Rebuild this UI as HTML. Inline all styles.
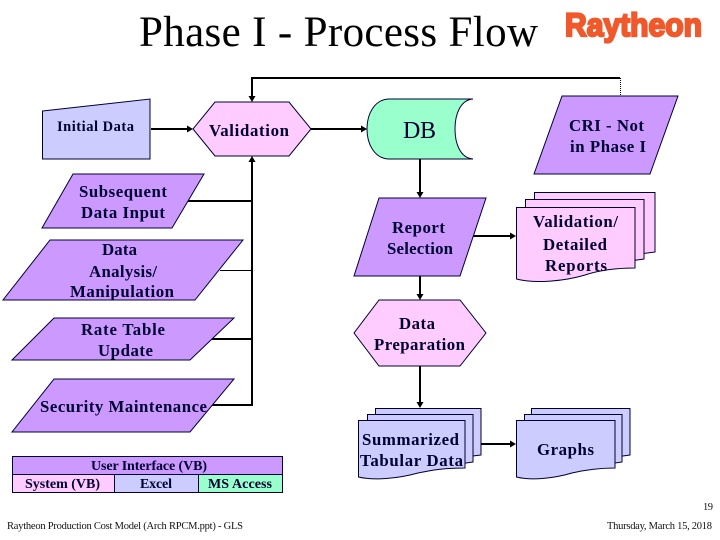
<!DOCTYPE html>
<html>
<head>
<meta charset="utf-8">
<style>
html,body{margin:0;padding:0;background:#fff;width:720px;height:540px;overflow:hidden}
svg{display:block}
text{font-family:"Liberation Serif",serif;fill:#000033}
.b{font-weight:bold;font-size:16.8px}
.s{font-weight:bold;font-size:14px}
.f{font-size:10.5px;fill:#111}
.sh{stroke:#000033;stroke-width:1}
.l{stroke:#000;stroke-width:2;fill:none}
.a{fill:#000;stroke:none}
</style>
</head>
<body>
<svg width="720" height="540" viewBox="0 0 720 540" xmlns="http://www.w3.org/2000/svg">
<!-- title and logo -->
<text x="139" y="46" font-size="43" textLength="399" lengthAdjust="spacing" style="fill:#000">Phase I - Process Flow</text>
<text x="565" y="36" font-size="32" textLength="137" lengthAdjust="spacingAndGlyphs" style="font-family:'Liberation Sans',sans-serif;font-weight:bold;fill:#F0592B;stroke:#F0592B;stroke-width:2.2">Raytheon</text>

<!-- connectors -->
<path class="l" d="M252 78H620"/>
<path d="M620.5 78V96" stroke="#000" stroke-width="1" stroke-dasharray="1 1" fill="none"/>
<path class="l" d="M252 77V97"/>
<path class="a" d="M248.500 96H255.500L252 102Z"/>
<path class="l" d="M151 129H188"/>
<path class="a" d="M187 125.500L193 129L187 132.500Z"/>
<path class="l" d="M311 129H362"/>
<path class="a" d="M361 125.500L367 129L361 132.500Z"/>
<path class="l" d="M252 161V405H212"/>
<path class="a" d="M248.500 162L252 156L255.500 162Z"/>
<path class="l" d="M187 201H252"/>
<path d="M220 270.500H252" stroke="#000" stroke-width="1" fill="none"/>
<path class="l" d="M212 339H252"/>
<path class="l" d="M420 159V193"/>
<path class="a" d="M416.500 192H423.500L420 198Z"/>
<path class="l" d="M420 276V295"/>
<path class="a" d="M416.500 294H423.500L420 300Z"/>
<path class="l" d="M420 366V403"/>
<path class="a" d="M416.500 402H423.500L420 408Z"/>
<path class="l" d="M473 236H511"/>
<path class="a" d="M510 232.500L516 236L510 239.500Z"/>
<path class="l" d="M481 444H511"/>
<path class="a" d="M510 440.500L516 444L510 447.500Z"/>

<!-- left column -->
<path class="sh" fill="#CCCCFF" d="M42.500 111L150 99V159H42.500Z"/>
<path class="sh" fill="#FFCCFF" d="M193 129L215 102H289L311 129L289 156H215Z"/>
<path class="sh" fill="#CC99FF" d="M73 174H204L172 228H42Z"/>
<path class="sh" fill="#CC99FF" d="M50 240H243L195 300H3Z"/>
<path class="sh" fill="#CC99FF" d="M54 318H234L190 360H12Z"/>
<path class="sh" fill="#CC99FF" d="M54 379H234L190 432H12Z"/>

<!-- table -->
<rect class="sh" fill="#CC99FF" x="12.500" y="456.500" width="270" height="18"/>
<rect class="sh" fill="#FFCCFF" x="12.500" y="474.500" width="102" height="18"/>
<rect class="sh" fill="#CCCCFF" x="114.500" y="474.500" width="84" height="18"/>
<rect class="sh" fill="#99FFCC" x="198.500" y="474.500" width="84" height="18"/>

<!-- DB -->
<path class="sh" fill="#99FFCC" d="M473 99H388C375 100 367 113 367 129C367 145 375 158 388 159H473C460 158 455 143 455 129C455 115 460 100 473 99Z"/>

<!-- middle and right shapes -->
<path class="sh" fill="#CC99FF" d="M379 198H486L460 276H354Z"/>
<path class="sh" fill="#FFCCFF" d="M379 300H460L486 333L460 366H379L354 333Z"/>
<path class="sh" fill="#CC99FF" d="M562 96H678L650 174H534Z"/>

<!-- pink documents -->
<path class="sh" fill="#FFCCFF" d="M534.500 192.500H655V252C640 254 625 256 600 262H534.500Z"/>
<path class="sh" fill="#FFCCFF" d="M525.500 199.500H644V259C630 261 615 263 590 270H525.500Z"/>
<path class="sh" fill="#FFCCFF" d="M516.500 207.500H635V268C615 268 600 270 585 275C565 281 535 284 516.500 279Z"/>

<!-- blue documents -->
<path class="sh" fill="#CCCCFF" d="M375.500 408.500H481V455C465 457 450 459 430 465H375.500Z"/>
<path class="sh" fill="#CCCCFF" d="M367.500 414.500H473V462C458 464 443 466 423 472H367.500Z"/>
<path class="sh" fill="#CCCCFF" d="M358.500 420.500H465V468C445 468 432 470 418 473C400 478 375 481 358.500 477Z"/>

<!-- graphs documents -->
<path class="sh" fill="#CCCCFF" d="M531.500 408.500H630V455C615 457 600 459 580 465H531.500Z"/>
<path class="sh" fill="#CCCCFF" d="M524.500 414.500H622V462C607 464 592 466 572 472H524.500Z"/>
<path class="sh" fill="#CCCCFF" d="M516.500 420.500H615V468C597 468 585 470 572 473C555 478 532 481 516.500 477Z"/>

<!-- labels -->
<text class="s" x="57" y="131" style="font-size:14.500px" textLength="77">Initial Data</text>
<text class="b" x="209" y="136" textLength="80">Validation</text>
<text class="b" x="79" y="197" textLength="88">Subsequent</text>
<text class="b" x="81" y="218" textLength="84">Data Input</text>
<text class="b" x="102" y="255" textLength="35">Data</text>
<text class="b" x="89" y="277" textLength="68">Analysis/</text>
<text class="b" x="70" y="297" textLength="104">Manipulation</text>
<text class="b" x="81" y="335" textLength="84">Rate Table</text>
<text class="b" x="98" y="356" textLength="55">Update</text>
<text class="b" x="40" y="412" textLength="167">Security Maintenance</text>

<text class="s" x="91" y="470" textLength="116">User Interface (VB)</text>
<text class="s" x="25" y="488" textLength="75">System (VB)</text>
<text class="s" x="140" y="488" textLength="32">Excel</text>
<text class="s" x="208" y="488" textLength="64">MS Access</text>

<text x="403" y="138" font-size="24" textLength="33">DB</text>
<text class="b" x="569" y="131" textLength="75">CRI - Not</text>
<text class="b" x="570" y="152" textLength="76">in Phase I</text>
<text class="b" x="392" y="233" textLength="53">Report</text>
<text class="b" x="387" y="254" textLength="66">Selection</text>
<text class="b" x="533" y="227" textLength="85">Validation/</text>
<text class="b" x="543" y="250" textLength="64">Detailed</text>
<text class="b" x="545" y="271" textLength="62">Reports</text>
<text class="b" x="399" y="329" textLength="36">Data</text>
<text class="b" x="374" y="350" textLength="91">Preparation</text>
<text class="b" x="362" y="445" textLength="97">Summarized</text>
<text class="b" x="360" y="466" textLength="103">Tabular Data</text>
<text class="b" x="537" y="455" textLength="57">Graphs</text>

<!-- footer -->
<text class="f" x="7" y="529" textLength="236">Raytheon Production Cost Model (Arch RPCM.ppt) - GLS</text>
<text class="f" x="703" y="510" textLength="10">19</text>
<text class="f" x="607" y="529" textLength="105">Thursday, March 15, 2018</text>
</svg>
</body>
</html>
